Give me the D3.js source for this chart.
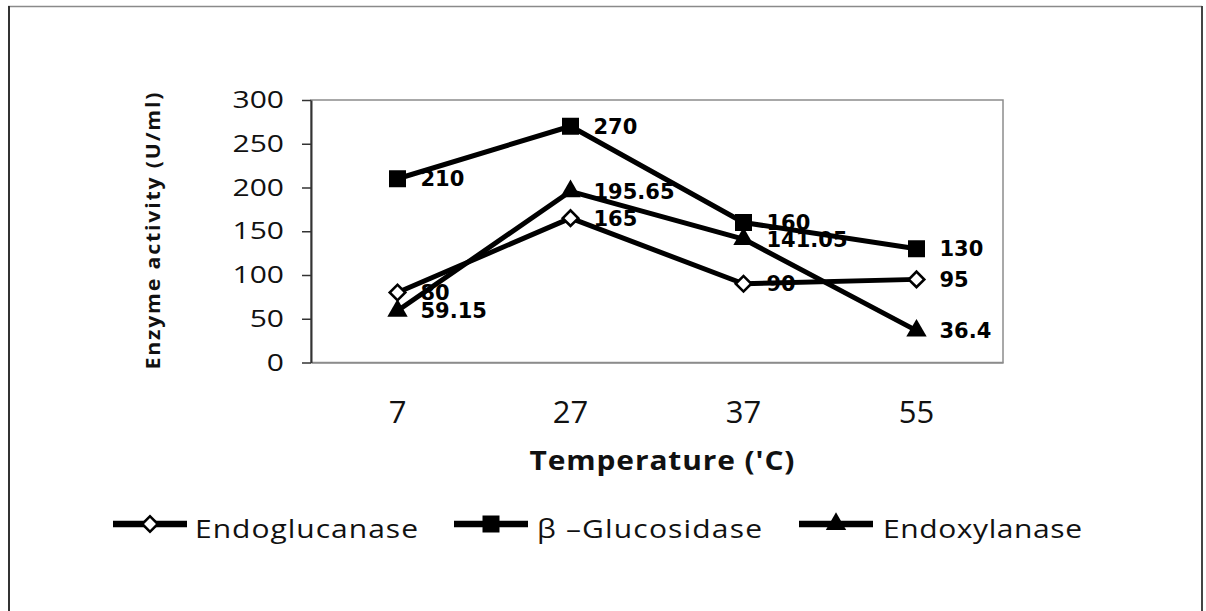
<!DOCTYPE html>
<html>
<head>
<meta charset="utf-8">
<script src="https://cdn.jsdelivr.net/npm/d3@7"></script>
<style>
  html, body { margin: 0; padding: 0; background: #fff; }
  svg { display: block; }
</style>
</head>
<body>
<svg id="chart" width="1206" height="611"></svg>
<script>
// ---- data ----
const categories = ["7", "27", "37", "55"];
const endoglucanase = [80, 165, 90, 95];
const glucosidase = [210, 270, 160, 130];
const endoxylanase = [59.15, 195.65, 141.05, 36.4];
const yTicks = [0, 50, 100, 150, 200, 250, 300];
const seriesNames = ["Endoglucanase", "β –Glucosidase", "Endoxylanase"];
const xTitle = "Temperature ('C)";
const yTitle = "Enzyme activity  (U/ml)";

// ---- layout ----
const svg = d3.select("#chart");
const plot = { left: 311, right: 1003, top: 100, bottom: 362.5 };

const x = d3.scaleBand().domain(categories).range([plot.left, plot.right]);
const xc = c => x(c) + x.bandwidth() / 2;
const y = d3.scaleLinear().domain([0, 300]).range([plot.bottom, plot.top]);

// outer page border
svg.append("line").attr("x1", 8).attr("x2", 1202).attr("y1", 6.5).attr("y2", 6.5)
  .attr("stroke", "#8a8a8a").attr("stroke-width", 1.5);
svg.append("line").attr("x1", 9).attr("x2", 9).attr("y1", 6).attr("y2", 611)
  .attr("stroke", "#333").attr("stroke-width", 2);
svg.append("line").attr("x1", 1202).attr("x2", 1202).attr("y1", 6).attr("y2", 611)
  .attr("stroke", "#444").attr("stroke-width", 2);

// plot frame (top & right gray)
svg.append("rect")
  .attr("x", plot.left).attr("y", plot.top)
  .attr("width", plot.right - plot.left).attr("height", plot.bottom - plot.top)
  .attr("fill", "none").attr("stroke", "#8c8c8c").attr("stroke-width", 1.5);

// x axis
const gx = svg.append("g").attr("transform", `translate(0,${plot.bottom})`)
  .call(d3.axisBottom(x).tickSizeInner(0).tickSizeOuter(0).tickPadding(38));
gx.select(".domain").attr("stroke", "#8c8c8c").attr("stroke-width", 1.5);
gx.selectAll("text")
  .attr("font-family", "'Open Sans', sans-serif").attr("font-size", 31)
  .attr("fill", "#111");

// y axis
const ySX = 1.25;
const gy = svg.append("g").attr("transform", `translate(${plot.left},0)`)
  .call(d3.axisLeft(y).tickValues(yTicks).tickSizeInner(9).tickSizeOuter(0).tickPadding(18));
gy.select(".domain").attr("stroke", "#333").attr("stroke-width", 2);
gy.selectAll(".tick line").attr("stroke", "#333").attr("stroke-width", 1.5);
gy.selectAll("text")
  .attr("font-family", "'Open Sans', sans-serif").attr("font-size", 24)
  .attr("fill", "#111")
  .attr("x", -27 / ySX)
  .attr("transform", `scale(${ySX},1)`);

// axis titles
const tSX = 1.15;
svg.append("text")
  .attr("transform", `translate(662,470) scale(${tSX},1)`)
  .attr("text-anchor", "middle")
  .attr("font-family", "'Open Sans', sans-serif").attr("font-weight", "bold")
  .attr("font-size", 26).attr("fill", "#111")
  .attr("textLength", 265 / tSX).attr("lengthAdjust", "spacing")
  .text(xTitle);

svg.append("text")
  .attr("transform", "translate(160,231) rotate(-90) scale(1.12,1)")
  .attr("text-anchor", "middle")
  .attr("font-family", "'Open Sans', sans-serif").attr("font-weight", "bold")
  .attr("font-size", 19).attr("fill", "#111")
  .attr("textLength", 277 / 1.12).attr("lengthAdjust", "spacing")
  .text(yTitle);

// series
const series = [
  { name: seriesNames[0], values: endoglucanase, shape: "diamond" },
  { name: seriesNames[1], values: glucosidase, shape: "square" },
  { name: seriesNames[2], values: endoxylanase, shape: "triangle" }
];

function drawMarker(g, shape, cx, cy) {
  if (shape === "square") {
    g.append("path").attr("d", d3.symbol(d3.symbolSquare, 17 * 17)())
      .attr("transform", `translate(${cx},${cy})`).attr("fill", "#000");
  } else if (shape === "diamond") {
    g.append("path").attr("d", d3.symbol(d3.symbolSquare, 11 * 11)())
      .attr("transform", `translate(${cx},${cy}) rotate(45)`)
      .attr("fill", "#fff").attr("stroke", "#000").attr("stroke-width", 2.6);
  } else {
    g.append("path").attr("d", d3.symbol(d3.symbolTriangle, 180)())
      .attr("transform", `translate(${cx},${cy})`).attr("fill", "#000");
  }
}

// data labels (under lines, as in reference)
const labelG = svg.append("g");
series.forEach(s => {
  s.values.forEach((v, i) => {
    labelG.append("text")
      .attr("x", xc(categories[i]) + 23)
      .attr("y", y(v))
      .attr("dy", "0.36em")
      .attr("font-family", "'DejaVu Sans', sans-serif").attr("font-weight", "bold")
      .attr("font-size", 21).attr("fill", "#000")
      .text(String(v));
  });
});

const line = d3.line().x((d, i) => xc(categories[i])).y(d => y(d));
const lineG = svg.append("g");
series.forEach(s => {
  lineG.append("path").datum(s.values).attr("d", line)
    .attr("fill", "none").attr("stroke", "#000").attr("stroke-width", 5)
    .attr("stroke-linejoin", "round");
});
series.forEach(s => {
  s.values.forEach((v, i) => drawMarker(lineG, s.shape, xc(categories[i]), y(v)));
});

// legend
const legendLineX = [150, 491, 836];
const legendTextX = [195, 537, 883];
const legendTextLen = [223, 225, 199];
const legendY = 524;
const lSX = 1.2;
const lg = svg.append("g");
series.forEach((s, i) => {
  lg.append("line")
    .attr("x1", legendLineX[i] - 37).attr("x2", legendLineX[i] + 37)
    .attr("y1", legendY).attr("y2", legendY)
    .attr("stroke", "#000").attr("stroke-width", 6.5);
  drawMarker(lg, s.shape, legendLineX[i], legendY);
  lg.append("text")
    .attr("transform", `translate(${legendTextX[i]},538) scale(${lSX},1)`)
    .attr("font-family", "'Open Sans', sans-serif").attr("font-size", 25)
    .attr("fill", "#111")
    .attr("textLength", legendTextLen[i] / lSX).attr("lengthAdjust", "spacing")
    .text(s.name);
});
</script>
</body>
</html>
